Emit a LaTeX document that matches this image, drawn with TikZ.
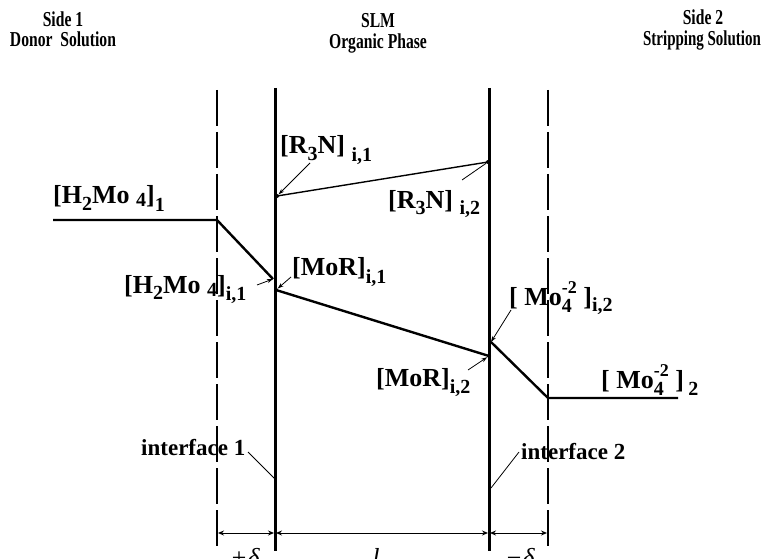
\documentclass[tikz,border=0pt]{standalone}
\usepackage{fontspec}
\setmainfont{Liberation Serif}
\usetikzlibrary{arrows.meta}
\newcommand\lo[2][6]{\raisebox{-#1pt}{\fontsize{20}{20}\selectfont #2}}
\newcommand\hi[2][12]{\raisebox{#1pt}{\fontsize{18}{18}\selectfont #2}}
\newcommand\mostack{Mo\rlap{\lo[7]{4}}\hi[12]{-2}}
\newcommand\tall[1]{\scalebox{0.92}[1.25]{#1}}
\begin{document}
\begin{tikzpicture}[x=1pt,y=-1pt,
  head/.style={font=\fontsize{17}{17}\selectfont\bfseries, inner sep=0pt, anchor=base},
  chem/.style={font=\fontsize{26}{26}\selectfont\bfseries, inner sep=0pt, anchor=base west},
  iface/.style={font=\fontsize{23}{23}\selectfont\bfseries, inner sep=0pt, anchor=base west},
  dim/.style={font=\fontsize{26}{26}\selectfont\itshape, inner sep=0pt, anchor=base},
  dashline/.style={line width=1.2pt, dash pattern=on 36pt off 6pt},
  wall/.style={line width=3pt},
  prof/.style={line width=2.4pt},
  thinprof/.style={line width=1.4pt},
  leader/.style={line width=0.8pt, -{Stealth[length=6pt,width=4pt]}},
  leaderplain/.style={line width=0.8pt},
  dimarrow/.style={line width=1pt, {Stealth[length=6pt,width=5pt]}-{Stealth[length=6pt,width=5pt]}, shorten <=1pt, shorten >=1pt},
  dot/.style={circle, fill=black, inner sep=0pt, minimum size=4pt}]
\useasboundingbox (0,0) rectangle (766,559);
\fill[white] (0,0) rectangle (766,559);

% header texts
\node[head] (side1) at (63,27) {\tall{Side 1}};
\node[head] (donor) at (63,47) {\tall{Donor\ \ Solution}};
\node[head] (slm) at (378,28) {\tall{SLM}};
\node[head] (org) at (378,49) {\tall{Organic Phase}};
\node[head] (side2) at (703,25) {\tall{Side 2}};
\node[head] (strip) at (702,46) {\scalebox{0.88}[1.25]{Stripping Solution}};

% vertical lines
\coordinate (d1t) at (217,90); \coordinate (d1b) at (217,550);
\coordinate (w1t) at (275,88);  \coordinate (w1b) at (275,551);
\coordinate (w2t) at (489,88);  \coordinate (w2b) at (489,551);
\coordinate (d2t) at (548,90); \coordinate (d2b) at (548,550);
\draw[dashline] (d1t) -- (d1b);
\draw[dashline] (d2t) -- (d2b);
\draw[wall] (w1t) -- (w1b);
\draw[wall] (w2t) -- (w2b);

% concentration profiles
\coordinate (h0) at (53,220);
\coordinate (h1) at (217,220);
\coordinate (h2) at (273,279);
\draw[prof] (h0) -- (h1) -- (h2);

\node[dot] (m1) at (276,290) {};
\node[dot] (m2) at (489,356) {};
\draw[prof] (m1.center) -- (m2.center);

\coordinate (k1) at (491,342);
\coordinate (k2) at (548,398);
\coordinate (k3) at (678,398);
\draw[prof] (k1) -- (k2) -- (k3);

\node[dot] (r1) at (277,196) {};
\node[dot] (r2) at (488,162) {};
\draw[thinprof] (r1.center) -- (r2.center);

% labels
\node[chem] (lh1) at (53,204) {[H\lo{2}Mo\ \lo[3]{4}]\lo[8]{1}};
\node[chem] (lr1) at (280,154) {[R\lo{3}N]\ \lo[8]{i,1}};
\node[chem] (lr2) at (388,208) {[R\lo{3}N]\ \lo[6]{i,2}};
\node[chem] (lm1) at (292,275) {[MoR]\lo[8]{i,1}};
\node[chem] (lhi) at (124,293) {[H\lo{2}Mo\ \lo[3]{4}]\lo[7]{i,1}};
\node[chem] (lki) at (509,305) {[ \mostack\ ]\lo[6]{i,2}};
\node[chem] (lm2) at (376,386) {[MoR]\lo[7]{i,2}};
\node[chem] (lk2) at (601,388) {[ \mostack\ ]\,\lo[7]{2}};
\node[iface] (if1) at (141,455) {interface 1};
\node[iface] (if2) at (521,459) {interface 2};

% leaders
\draw[leader] (310,163) -- (r1);
\draw[leaderplain] (462,180) -- (r2);
\draw[leader] (291,277) -- (m1);
\draw[leader] (257,285) -- (h2);
\draw[leader] (511,310) -- (k1);
\draw[leader] (468,370) -- (m2);
\draw[leaderplain] (248,452) -- (275,479);
\draw[leaderplain] (491,488) -- (519,452);

% dimension line
\coordinate (a0) at (217,533); \coordinate (a1) at (275,533);
\coordinate (a2) at (489,533); \coordinate (a3) at (548,533);
\draw[dimarrow] (a0) -- (a1);
\draw[dimarrow] (a1) -- (a2);
\draw[dimarrow] (a2) -- (a3);
\node[dim] (pd) at (245,566) {+δ};
\node[dim] (ll) at (376,566) {l};
\node[dim] (md) at (520,566) {−δ};
\end{tikzpicture}
\end{document}
